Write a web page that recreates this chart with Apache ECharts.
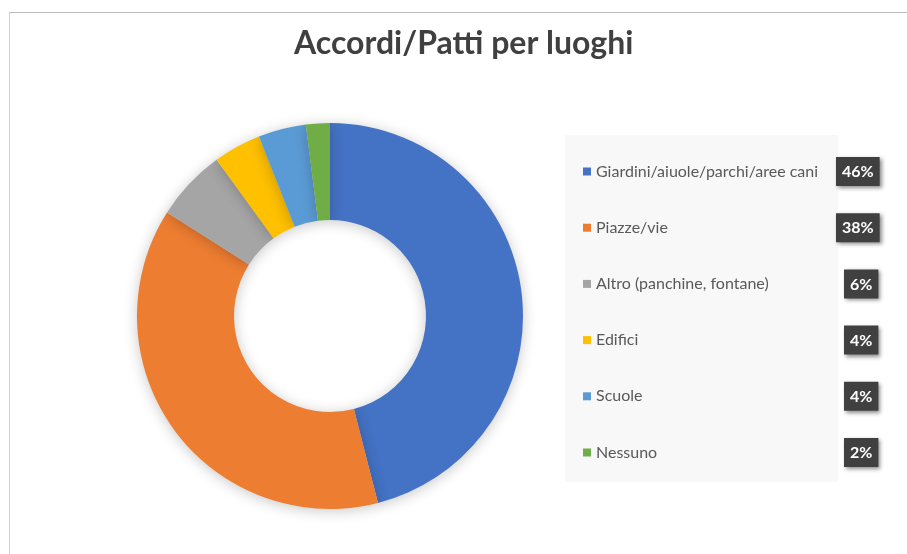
<!DOCTYPE html>
<html>
<head>
<meta charset="utf-8">
<script src="https://cdn.jsdelivr.net/npm/echarts@6/dist/echarts.min.js"></script>
<style>
html,body{margin:0;padding:0;background:#fff;}
#c{width:907px;height:554px;}
</style>
</head>
<body>
<div id="c"></div>
<script>
const titleText = 'Accordi/Patti per luoghi';
const categories = ['Giardini/aiuole/parchi/aree cani', 'Piazze/vie', 'Altro (panchine, fontane)', 'Edifici', 'Scuole', 'Nessuno'];
const values = [46, 38, 6, 4, 4, 2];
const colors = ['#4472C4', '#ED7D31', '#A5A5A5', '#FFC000', '#5B9BD5', '#70AD47'];

const chart = echarts.init(document.getElementById('c'), null, {renderer: 'canvas'});
const total = values.reduce((a, b) => a + b, 0);
const pctOf = name => Math.round(values[categories.indexOf(name)] / total * 100);

const boxStyle = {fontFamily: 'Lato', fontSize: 16, fontWeight: 'bold', color: '#ffffff', backgroundColor: '#404040',
  padding: [7, 6, 6, 6], lineHeight: 16,
  shadowColor: 'rgba(0,0,0,0.45)', shadowBlur: 4, shadowOffsetX: 2, shadowOffsetY: 2};

chart.setOption({
  backgroundColor: '#ffffff',
  title: {
    text: titleText,
    left: 294,
    top: 28,
    padding: 0,
    textStyle: {fontFamily: 'Lato', fontWeight: 'bold', fontSize: 32, color: '#404040'}
  },
  graphic: [
    {type: 'line', shape: {x1: 9, y1: 12.5, x2: 907, y2: 12.5}, style: {stroke: '#bdbdbd', lineWidth: 1}, silent: true},
    {type: 'line', shape: {x1: 9.5, y1: 12, x2: 9.5, y2: 554}, style: {stroke: '#cfcfcf', lineWidth: 1}, silent: true},
    {type: 'rect', shape: {x: 565, y: 135, width: 273, height: 347}, style: {fill: '#f8f8f8'}, z: -10, silent: true}
  ],
  legend: {
    orient: 'vertical',
    left: 583,
    top: 157,
    padding: 0,
    itemWidth: 8,
    itemHeight: 8,
    itemGap: 27.2,
    icon: 'rect',
    data: categories,
    formatter: name => {
      const p = pctOf(name);
      const key = String(p).length > 1 ? 'n2' : 'n1';
      return '{' + key + '|' + name + '}' + '{p|' + p + '%}';
    },
    textStyle: {
      fontFamily: 'Lato',
      fontSize: 16,
      color: '#595959',
      rich: {
        n2: {fontFamily: 'Lato', fontSize: 16, color: '#595959', width: 240, lineHeight: 29},
        n1: {fontFamily: 'Lato', fontSize: 16, color: '#595959', width: 248, lineHeight: 29},
        p: boxStyle
      }
    }
  },
  series: [{
    type: 'pie',
    center: [330, 316],
    radius: [96, 193],
    startAngle: 90,
    clockwise: true,
    label: {show: false},
    labelLine: {show: false},
    silent: true,
    itemStyle: {shadowBlur: 14, shadowColor: 'rgba(0,0,0,0.22)', shadowOffsetY: 2},
    data: categories.map((c, i) => ({name: c, value: values[i], itemStyle: {color: colors[i]}}))
  }]
});
</script>
</body>
</html>
